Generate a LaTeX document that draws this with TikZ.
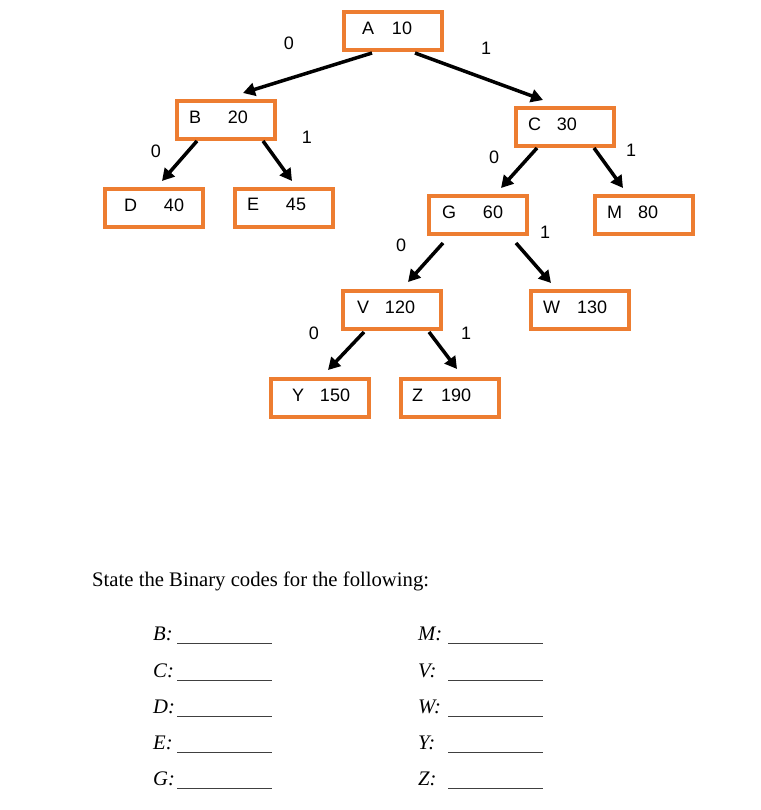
\documentclass[tikz,border=0pt]{standalone}
\usepackage{fontspec}
\setmainfont{Liberation Serif}
\newfontfamily\arialf{Liberation Sans}
\usetikzlibrary{arrows.meta,calc}
\definecolor{boxorange}{HTML}{ED7D31}
\newcommand\tnode[7]{\node[tbox] (#1) at (#2,#3) {\makebox[98.5pt][l]{\hspace*{#4pt}\makebox[#5pt][l]{#6}#7}};}
\newcommand\blankline[2]{\makebox[#1pt][l]{\textit{#2}}\textcolor{black!75}{\rule[-4pt]{95pt}{0.9pt}}}
\begin{document}
\begin{tikzpicture}[x=1pt,y=-1pt,
  tbox/.style={draw=boxorange, line width=3.6pt, minimum width=98.5pt, minimum height=38.5pt,
    inner xsep=0pt, inner ysep=0pt, font=\arialf\fontsize{18}{21}\selectfont, text depth=6.5pt},
  arr/.style={line width=3.5pt, -{Triangle[length=12pt,width=13pt]}},
  bit/.style={font=\arialf\fontsize{18}{21}\selectfont, inner sep=0pt},
  ask/.style={anchor=base west, inner sep=0pt, font=\fontsize{20.7}{24}\selectfont}
]
\useasboundingbox (0,0) rectangle (760,810);
% tree nodes
\tnode{A}{393}{31}{18.25}{30}{A}{10}
\tnode{B}{226}{120}{12.25}{39}{B}{20}
\tnode{C}{565}{127}{12.25}{29}{C}{30}
\tnode{D}{154}{208}{19.25}{40}{D}{40}
\tnode{E}{284}{208}{12.25}{39}{E}{45}
\tnode{G}{478}{215}{13.25}{41}{G}{60}
\tnode{M}{644}{215}{12.25}{31}{M}{80}
\tnode{V}{392}{310}{14.25}{28}{V}{120}
\tnode{W}{580}{310}{12.25}{34}{W}{130}
\tnode{Y}{320}{398}{21.25}{28}{Y}{150}
\tnode{Z}{450}{398}{11.25}{29}{Z}{190}
% connectors
\draw[arr] ($(A)+(-21,22)$) -- ($(B)+(17,-27)$);
\draw[arr] ($(A)+(22,22)$) -- ($(C)+(-22,-27)$);
\draw[arr] ($(B)+(-29,21)$) -- ($(D)+(8,-27)$);
\draw[arr] ($(B)+(37,21)$) -- ($(E)+(8,-27)$);
\draw[arr] ($(C)+(-28,21)$) -- ($(G)+(23,-27)$);
\draw[arr] ($(C)+(29,21)$) -- ($(M)+(-21,-27)$);
\draw[arr] ($(G)+(-35,28)$) -- ($(V)+(16,-28)$);
\draw[arr] ($(G)+(38,28)$) -- ($(W)+(-29,-27)$);
\draw[arr] ($(V)+(-28,22)$) -- ($(Y)+(8,-28)$);
\draw[arr] ($(V)+(37,22)$) -- ($(Z)+(7,-29)$);
% bit labels
\node[bit] (lAB) at (289,43) {0};
\node[bit] (lAC) at (486,48) {1};
\node[bit] (lBD) at (156,151) {0};
\node[bit] (lBE) at (307,137) {1};
\node[bit] (lCG) at (494,157) {0};
\node[bit] (lCM) at (631,150) {1};
\node[bit] (lGV) at (401,245) {0};
\node[bit] (lGW) at (545,232) {1};
\node[bit] (lVY) at (314,333) {0};
\node[bit] (lVZ) at (466,333) {1};
% question
\node[ask] (q) at (92,586) {State the Binary codes for the following:};
\node[ask] (qB) at (153,640) {\blankline{24}{B:}};
\node[ask] (qC) at (153,677) {\blankline{24}{C:}};
\node[ask] (qD) at (153,713) {\blankline{24}{D:}};
\node[ask] (qE) at (153,749) {\blankline{24}{E:}};
\node[ask] (qG) at (153,785) {\blankline{24}{G:}};
\node[ask] (qM) at (418,640) {\blankline{30}{M:}};
\node[ask] (qV) at (418,677) {\blankline{30}{V:}};
\node[ask] (qW) at (418,713) {\blankline{30}{W:}};
\node[ask] (qY) at (418,749) {\blankline{30}{Y:}};
\node[ask] (qZ) at (418,785) {\blankline{30}{Z:}};
\end{tikzpicture}
\end{document}
